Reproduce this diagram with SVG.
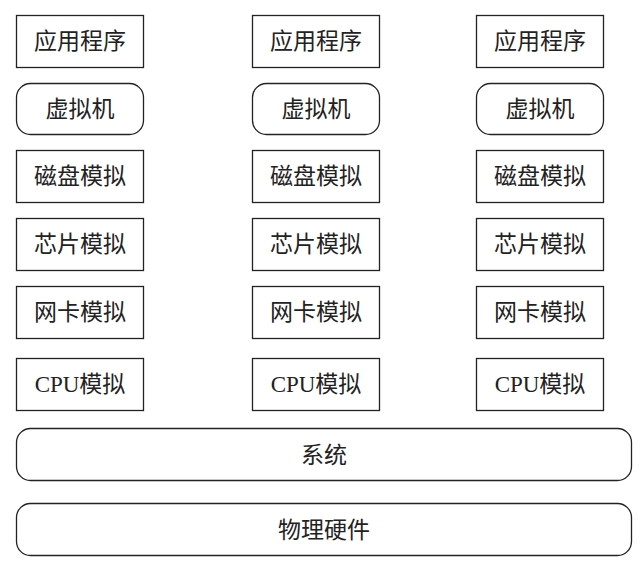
<svg xmlns="http://www.w3.org/2000/svg" width="641" height="574" viewBox="0 0 641 574">
<style>
rect{fill:#fff;stroke:#222;stroke-width:1.3}
text{font-family:"Liberation Serif","Noto Sans CJK SC",serif;font-size:23px;fill:#222;text-anchor:middle;dominant-baseline:central}
</style>
<rect width="641" height="574" style="stroke:none"/>
<g id="c1">
<g id="app1"><rect x="16.5" y="15.5" width="127" height="52"/><text x="80" y="41">应用程序</text></g>
<g id="vm1"><rect x="16.5" y="83.5" width="127" height="51" rx="14"/><text x="80" y="109">虚拟机</text></g>
<g id="disk1"><rect x="16.5" y="150.5" width="127" height="52"/><text x="80" y="176">磁盘模拟</text></g>
<g id="chip1"><rect x="16.5" y="218.5" width="127" height="52"/><text x="80" y="244">芯片模拟</text></g>
<g id="nic1"><rect x="16.5" y="286.5" width="127" height="52"/><text x="80" y="312">网卡模拟</text></g>
<g id="cpu1"><rect x="16.5" y="358.5" width="127" height="52"/><text x="80" y="384">CPU模拟</text></g>
</g>
<g id="c2">
<g id="app2"><rect x="252.5" y="15.5" width="127" height="52"/><text x="316" y="41">应用程序</text></g>
<g id="vm2"><rect x="252.5" y="83.5" width="127" height="51" rx="14"/><text x="316" y="109">虚拟机</text></g>
<g id="disk2"><rect x="252.5" y="150.5" width="127" height="52"/><text x="316" y="176">磁盘模拟</text></g>
<g id="chip2"><rect x="252.5" y="218.5" width="127" height="52"/><text x="316" y="244">芯片模拟</text></g>
<g id="nic2"><rect x="252.5" y="286.5" width="127" height="52"/><text x="316" y="312">网卡模拟</text></g>
<g id="cpu2"><rect x="252.5" y="358.5" width="127" height="52"/><text x="316" y="384">CPU模拟</text></g>
</g>
<g id="c3">
<g id="app3"><rect x="476.5" y="15.5" width="127" height="52"/><text x="540" y="41">应用程序</text></g>
<g id="vm3"><rect x="476.5" y="83.5" width="127" height="51" rx="14"/><text x="540" y="109">虚拟机</text></g>
<g id="disk3"><rect x="476.5" y="150.5" width="127" height="52"/><text x="540" y="176">磁盘模拟</text></g>
<g id="chip3"><rect x="476.5" y="218.5" width="127" height="52"/><text x="540" y="244">芯片模拟</text></g>
<g id="nic3"><rect x="476.5" y="286.5" width="127" height="52"/><text x="540" y="312">网卡模拟</text></g>
<g id="cpu3"><rect x="476.5" y="358.5" width="127" height="52"/><text x="540" y="384">CPU模拟</text></g>
</g>
<g id="sys"><rect x="16.5" y="428.5" width="615" height="52" rx="14"/><text x="324" y="455">系统</text></g>
<g id="hw"><rect x="16.5" y="503.5" width="615" height="52" rx="14"/><text x="324" y="530">物理硬件</text></g>
<g id="connectors"/>
</svg>
